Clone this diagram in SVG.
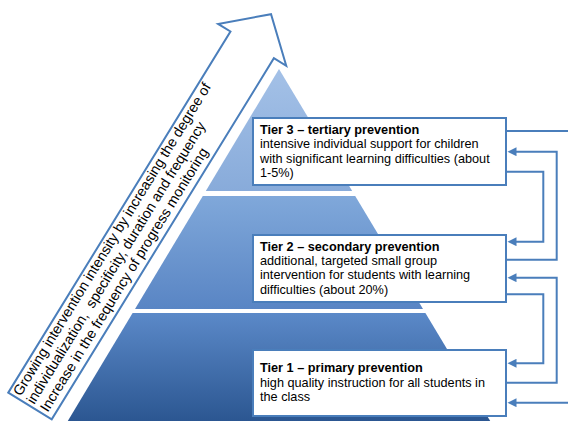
<svg xmlns="http://www.w3.org/2000/svg" width="568" height="421" viewBox="0 0 568 421">
  <style>
    .arrow-outline { fill: #ffffff; stroke: #4a7ebb; stroke-width: 2; stroke-linejoin: miter; }
    .arrow-text { font-family: "Liberation Sans", Arial, sans-serif; font-size: 14.3px; fill: #000000; }
    .box { fill: #ffffff; stroke: #4a7ebb; stroke-width: 2; }
    .title { font-family: "Liberation Sans", Arial, sans-serif; font-size: 12.7px; font-weight: bold; fill: #000000; }
    .body { font-family: "Liberation Sans", Arial, sans-serif; font-size: 12.7px; fill: #000000; }
    .link { fill: none; stroke: #4a7ebb; stroke-width: 2; }
  </style>
  <defs>
    <linearGradient id="g-top" x1="0" y1="0" x2="0" y2="1">
      <stop offset="0" stop-color="#a4c1e7"/>
      <stop offset="1" stop-color="#88abda"/>
    </linearGradient>
    <linearGradient id="g-mid" x1="0" y1="0" x2="0" y2="1">
      <stop offset="0" stop-color="#80a8da"/>
      <stop offset="1" stop-color="#5985c4"/>
    </linearGradient>
    <linearGradient id="g-bot" x1="0" y1="0" x2="0" y2="1">
      <stop offset="0" stop-color="#5b89c8"/>
      <stop offset="1" stop-color="#2b5691"/>
    </linearGradient>
    <marker id="head" viewBox="0 0 10 10" refX="5" refY="5" markerWidth="10" markerHeight="9" markerUnits="userSpaceOnUse" orient="auto">
      <path d="M0,0 L10,5 L0,10 Z" fill="#4a7ebb"/>
    </marker>
  </defs>

  <!-- tilted outline arrow: intensity grows upwards -->
  <g id="intensity-arrow" transform="translate(30,406) rotate(-58.4)">
    <path class="arrow-outline" d="M0,-25.5 L424,-25.5 L424,-40 L460,0 L424,40 L424,25.5 L0,25.5 Z"/>
    <text class="arrow-text" x="3" y="-12.8">Growing intervention intensity by increasing the degree of</text>
    <text class="arrow-text" x="3" y="3">individualization,&#160; specificity, duration and frequency</text>
    <text class="arrow-text" x="3.5" y="18.8">Increase in the frequency of progress monitoring</text>
  </g>

  <!-- three-level pyramid -->
  <g id="pyramid">
    <polygon fill="url(#g-top)" points="279,69 352.2,191 205.8,191"/>
    <polygon fill="url(#g-mid)" points="202.8,196 355.2,196 423,309 135,309"/>
    <polygon fill="url(#g-bot)" points="132.6,313 425.4,313 490.8,422 67.2,422"/>
  </g>

  <g id="tier3">
    <rect class="box" x="253" y="118" width="253" height="67"/>
    <text class="title" x="260" y="134">Tier 3 – tertiary prevention</text>
    <text class="body" x="260" y="148.4">intensive individual support for children</text>
    <text class="body" x="260" y="162.7">with significant learning difficulties (about</text>
    <text class="body" x="260" y="177">1-5%)</text>
  </g>

  <g id="tier2">
    <rect class="box" x="253" y="235" width="253" height="67"/>
    <text class="title" x="260" y="250.6">Tier 2 – secondary prevention</text>
    <text class="body" x="260" y="265">additional, targeted small group</text>
    <text class="body" x="260" y="279.3">intervention for students with learning</text>
    <text class="body" x="260" y="293.6">difficulties (about 20%)</text>
  </g>

  <g id="tier1">
    <rect class="box" x="253" y="350" width="253" height="66"/>
    <text class="title" x="260" y="372.3">Tier 1 – primary prevention</text>
    <text class="body" x="260" y="387.2">high quality instruction for all students in</text>
    <text class="body" x="260" y="401.3">the class</text>
  </g>

  <g id="connectors">
    <path class="link" d="M506,131 H568"/>
    <path class="link" d="M506,259.7 H556.7 V151.7 H512" marker-end="url(#head)"/>
    <path class="link" d="M506,171.7 H543.3 V241.7 H512" marker-end="url(#head)"/>
    <path class="link" d="M506,382.7 H556.7 V277.7 H512" marker-end="url(#head)"/>
    <path class="link" d="M506,294.3 H543.3 V363.3 H512" marker-end="url(#head)"/>
    <path class="link" d="M568,402.7 H512" marker-end="url(#head)"/>
  </g>
</svg>
